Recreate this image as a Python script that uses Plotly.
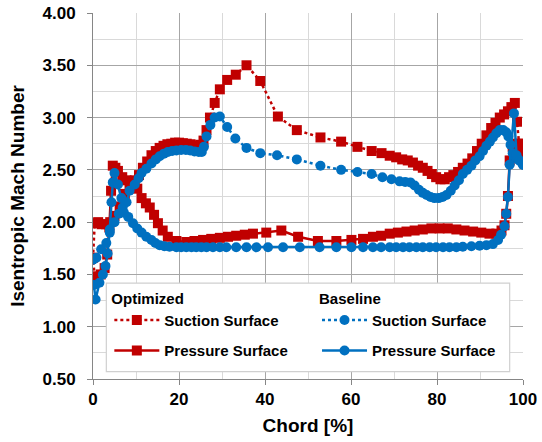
import plotly.graph_objects as go

# ---- data (Chord %, Isentropic Mach number) ----
opt_suction_x = [0.4, 0.0, 0.4, 1.2, 2.0, 3.0, 4.0, 5.0, 6.2, 7.4, 8.5, 9.7, 10.7, 11.6, 12.6,
                 13.6, 14.6, 15.5, 16.4, 17.3, 18.2, 19.1, 20.0, 20.9, 21.8, 22.7, 23.6, 24.4, 25.1, 25.7,
                 26.4, 27.2, 28.3, 29.5, 31.2, 33.2, 35.7, 38.9, 43.0, 47.4, 52.9, 57.7, 61.5, 64.8, 67.1,
                 69.0, 70.5, 71.9, 73.2, 74.4, 75.6, 76.7, 77.8, 78.8, 79.8, 80.8, 81.8, 82.8, 83.8, 84.9,
                 86.0, 87.1, 88.2, 89.3, 90.4, 91.5, 92.6, 93.6, 94.6, 95.6, 96.5, 97.3, 98.1, 98.6, 99.1,
                 99.6, 100.0]
opt_suction_y = [1.48, 1.66, 1.99, 2.00, 1.98, 1.98, 2.00, 2.06, 2.15, 2.27, 2.36, 2.40, 2.45, 2.52, 2.58,
                 2.64, 2.68, 2.71, 2.73, 2.745, 2.75, 2.76, 2.76, 2.755, 2.75, 2.745, 2.735, 2.73, 2.74, 2.78,
                 2.88, 3.00, 3.14, 3.27, 3.36, 3.41, 3.50, 3.35, 3.01, 2.88, 2.81, 2.77, 2.72, 2.68, 2.66,
                 2.635, 2.62, 2.60, 2.59, 2.57, 2.54, 2.52, 2.49, 2.46, 2.43, 2.41, 2.41, 2.43, 2.45, 2.48,
                 2.52, 2.56, 2.61, 2.68, 2.75, 2.83, 2.90, 2.95, 3.00, 3.03, 3.06, 3.10, 3.14, 2.96, 2.75,
                 2.67, 2.62]

opt_pressure_x = [0.4, 1.0, 1.8, 2.7, 3.3, 3.8, 4.2, 4.6, 5.2, 5.8, 6.8, 7.8, 9.3, 10.3, 11.3,
                  12.3, 13.2, 14.2, 15.1, 16.2, 17.4, 19.4, 21.7, 23.6, 25.6, 27.5, 29.5, 31.4, 33.3, 35.3,
                  37.2, 40.3, 43.8, 47.7, 52.3, 56.6, 60.1, 62.8, 65.1, 67.0, 69.0, 70.9, 72.9, 74.8, 76.7,
                  78.7, 80.6, 82.5, 84.5, 86.4, 88.4, 90.3, 92.2, 93.8, 95.0, 95.7, 96.1, 96.5, 96.9, 97.6,
                  98.8, 100.0]
opt_pressure_y = [1.48, 1.44, 1.50, 1.56, 1.69, 1.95, 2.30, 2.54, 2.52, 2.49, 2.43, 2.40, 2.39, 2.32, 2.23,
                  2.18, 2.14, 2.07, 1.99, 1.92, 1.86, 1.82, 1.81, 1.82, 1.83, 1.84, 1.85, 1.86, 1.87, 1.88,
                  1.89, 1.90, 1.92, 1.86, 1.82, 1.82, 1.83, 1.84, 1.86, 1.87, 1.89, 1.90, 1.91, 1.92, 1.93,
                  1.94, 1.94, 1.94, 1.93, 1.92, 1.91, 1.90, 1.89, 1.89, 1.92, 1.97, 2.08, 2.25, 2.59, 2.72,
                  2.75, 2.62]

base_suction_x = [0.0, 0.8, 1.9, 3.1, 3.9, 5.0, 6.0, 6.9, 7.8, 8.5, 9.7, 10.6, 11.3, 12.4, 13.6,
                  14.6, 15.5, 16.5, 17.4, 18.4, 19.4, 20.5, 21.6, 22.6, 23.6, 24.6, 25.3, 25.8, 26.4, 27.3,
                  28.3, 29.5, 31.2, 33.1, 35.7, 38.9, 42.8, 47.4, 52.9, 57.7, 61.5, 64.8, 67.3, 69.4, 71.3,
                  72.6, 73.8, 74.8, 75.8, 76.7, 77.6, 78.5, 79.4, 80.4, 81.3, 82.2, 83.2, 84.1, 85.1, 86.0,
                  87.0, 88.0, 88.9, 89.9, 90.7, 91.5, 92.3, 93.0, 93.8, 94.6, 95.4, 96.1, 96.6, 97.1, 97.6,
                  98.2, 98.8, 99.4, 100.0]
base_suction_y = [1.64, 1.66, 1.74, 1.80, 1.90, 2.00, 2.08, 2.14, 2.19, 2.30, 2.36, 2.42, 2.47, 2.51, 2.56,
                  2.60, 2.63, 2.655, 2.67, 2.68, 2.685, 2.69, 2.69, 2.685, 2.675, 2.67, 2.67, 2.72, 2.82, 2.93,
                  3.00, 3.01, 2.91, 2.80, 2.71, 2.66, 2.64, 2.60, 2.54, 2.50, 2.48, 2.46, 2.43, 2.41, 2.39,
                  2.385, 2.38, 2.35, 2.31, 2.28, 2.26, 2.24, 2.23, 2.23, 2.24, 2.26, 2.30, 2.35, 2.40, 2.46,
                  2.50, 2.54, 2.59, 2.63, 2.68, 2.73, 2.77, 2.81, 2.85, 2.88, 2.88, 2.86, 2.82, 2.74, 2.66,
                  2.62, 2.60, 2.58, 2.55]

base_pressure_x = [0.2, 0.6, 1.5, 2.3, 2.9, 3.4, 3.9, 4.3, 4.6, 5.0, 5.8, 6.6, 7.2, 8.2, 9.3,
                   10.3, 11.3, 12.4, 13.6, 14.5, 15.5, 16.6, 17.8, 19.4, 20.5, 21.7, 22.9, 24.0, 25.2, 26.4,
                   27.9, 29.5, 31.0, 33.3, 35.7, 38.0, 40.7, 44.2, 48.1, 52.7, 56.6, 60.1, 62.8, 65.1, 67.0,
                   69.0, 70.5, 72.1, 73.6, 75.2, 76.7, 78.3, 79.8, 81.4, 82.9, 84.5, 86.0, 88.0, 89.9, 91.5,
                   93.0, 94.2, 94.9, 95.7, 96.1, 96.5, 96.9, 97.9, 98.5, 99.2, 100.0]
base_pressure_y = [1.40, 1.26, 1.42, 1.50, 1.58, 1.70, 1.93, 2.19, 2.38, 2.47, 2.36, 2.23, 2.09, 2.05, 1.99,
                   1.94, 1.90, 1.86, 1.83, 1.80, 1.78, 1.77, 1.765, 1.76, 1.76, 1.76, 1.76, 1.76, 1.76, 1.76,
                   1.76, 1.76, 1.76, 1.76, 1.76, 1.76, 1.76, 1.76, 1.76, 1.76, 1.76, 1.76, 1.76, 1.76, 1.76,
                   1.76, 1.76, 1.76, 1.76, 1.76, 1.76, 1.76, 1.76, 1.76, 1.76, 1.76, 1.765, 1.77, 1.775, 1.78,
                   1.79, 1.83, 1.88, 1.96, 2.08, 2.24, 2.55, 3.04, 2.64, 2.59, 2.55]

x_ticks = [0, 20, 40, 60, 80, 100]
y_ticks = [0.50, 1.00, 1.50, 2.00, 2.50, 3.00, 3.50, 4.00]

RED = "#C00000"
BLUE = "#0070C0"
FONT = "Liberation Sans, Arial, sans-serif"

fig = go.Figure()

def add(x, y, name, color, symbol, dash, legend, group):
    fig.add_trace(go.Scatter(
        x=x, y=y, name=name, mode="lines+markers",
        line=dict(color=color, width=2.5, dash=dash),
        marker=dict(color=color, symbol=symbol, size=10, line=dict(width=0)),
        legend=legend, legendgroup=group,
    ))

add(opt_suction_x, opt_suction_y, "Suction Surface", RED, "square", "3px,3px", "legend", "o1")
add(opt_pressure_x, opt_pressure_y, "Pressure Surface", RED, "square", "solid", "legend", "o2")
add(base_suction_x, base_suction_y, "Suction Surface", BLUE, "circle", "3px,3px", "legend2", "b1")
add(base_pressure_x, base_pressure_y, "Pressure Surface", BLUE, "circle", "solid", "legend2", "b2")

leg_font = dict(family=FONT, size=15, color="black", weight="bold")
common_leg = dict(xanchor="left", yanchor="top", bgcolor="rgba(0,0,0,0)", borderwidth=0,
                  font=leg_font, itemwidth=45, tracegroupgap=8, traceorder="grouped")

fig.update_layout(
    width=542, height=442, autosize=False,
    margin=dict(l=93, r=19, t=13, b=63),
    paper_bgcolor="white", plot_bgcolor="white",
    font=dict(family=FONT, color="black"),
    legend=dict(title=dict(text="Optimized", font=leg_font), x=0.038, y=0.259, **common_leg),
    legend2=dict(title=dict(text="Baseline", font=leg_font), x=0.521, y=0.259, **common_leg),
    shapes=[dict(type="rect", xref="paper", yref="paper", x0=0.031, x1=0.969, y0=0.02, y1=0.262,
                 fillcolor="white", line=dict(color="#d0d0d0", width=1.2), layer="above")],
)

fig.update_xaxes(
    range=[0, 100], tickvals=x_ticks, ticktext=[str(v) for v in x_ticks],
    showgrid=True, gridcolor="#a6a6a6", gridwidth=1,
    minor=dict(dtick=10, showgrid=True, gridcolor="#d9d9d9", gridwidth=1),
    showline=True, linecolor="#868686", linewidth=1,
    ticks="outside", ticklen=5, tickcolor="#868686",
    tickfont=dict(family=FONT, size=17, color="black", weight="bold"),
    ticklabeloverflow="allow",
    title=dict(text="Chord [%]", font=dict(family=FONT, size=19, color="black", weight="bold"), standoff=10),
    zeroline=False, automargin=False,
)
fig.update_yaxes(
    range=[0.5, 4.0], tickvals=y_ticks, ticktext=[f"{v:.2f}" for v in y_ticks],
    showgrid=True, gridcolor="#a6a6a6", gridwidth=1,
    minor=dict(dtick=0.25, showgrid=True, gridcolor="#d9d9d9", gridwidth=1),
    showline=True, linecolor="#868686", linewidth=1,
    ticks="outside", ticklen=5, tickcolor="#868686",
    tickfont=dict(family=FONT, size=17, color="black", weight="bold"),
    ticklabelstandoff=8, ticklabeloverflow="allow",
    title=dict(text="Isentropic Mach Number", font=dict(family=FONT, size=19, color="black", weight="bold"), standoff=12),
    zeroline=False, automargin=False,
)

fig.write_html("out.html", config={"displayModeBar": False},
               post_script="document.body.style.margin='0';document.body.style.overflow='hidden';")
